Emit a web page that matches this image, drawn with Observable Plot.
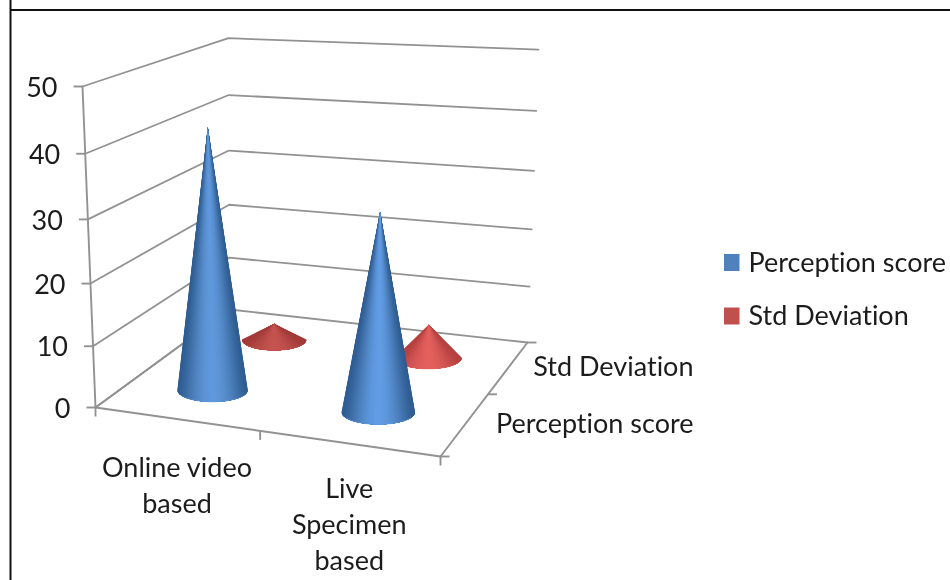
<!DOCTYPE html>
<html>
<head>
<meta charset="utf-8">
<style>html,body{margin:0;padding:0;background:#fff;overflow:hidden}svg{display:block;filter:blur(0.4px);font-variant-ligatures:none}</style>
<script src="https://cdn.jsdelivr.net/npm/d3@7"></script>
<script src="https://cdn.jsdelivr.net/npm/@observablehq/plot@0.6"></script>
</head>
<body>
<div id="chart"></div>
<script>
// ---- data ----
const categories = ["Online video\nbased", "Live\nSpecimen\nbased"];
const series = ["Perception score", "Std Deviation"];
const perceptionScore = [42.3, 31.3];
const stdDeviation = [2.9, 5.8];
const valueTicks = [0, 10, 20, 30, 40, 50];
const legendColors = ["#4f81bd", "#c0504d"];

// ---- cone shading (edge, middle, highlight) ----
const blueShades = [["#2f5d92", "#4c7fba", "#6098dc"], ["#2f5d92", "#4c80bd", "#619ce4"]];
const redShades = [["#a33b39", "#b54946", "#c55350"], ["#b5403e", "#cf5452", "#e4605e"]];

// ---- the 3D view: the chart's floor is a perspective image of the unit square ----
const FL = [95, 407], FR = [440, 456], BR = [527, 342], BL = [229, 309];
const wallHeight = 321, perspectiveK = 0.06;
const lean = {FL: -13, FR: 6, BR: 11, BL: -1};
const maxValue = 50;
const dx1 = FR[0] - BR[0], dx2 = BL[0] - BR[0], sx = FL[0] - FR[0] + BR[0] - BL[0];
const dy1 = FR[1] - BR[1], dy2 = BL[1] - BR[1], sy = FL[1] - FR[1] + BR[1] - BL[1];
const det = dx1 * dy2 - dx2 * dy1;
const g = (sx * dy2 - dx2 * sy) / det, h = (dx1 * sy - sx * dy1) / det;
const A = FR[0] - FL[0] + g * FR[0], B = BL[0] - FL[0] + h * BL[0];
const D = FR[1] - FL[1] + g * FR[1], E = BL[1] - FL[1] + h * BL[1];
const denom = (u, d) => g * u + h * d + 1;
function project(u, d, v) {
  const w = denom(u, d);
  const s = v / maxValue, t = s / (1 + perspectiveK * (1 - s));
  const fx = (A * u + B * d + FL[0]) / w, fy = (D * u + E * d + FL[1]) / w;
  const l = lean.FL * (1 - u) * (1 - d) + lean.FR * u * (1 - d) + lean.BR * u * d + lean.BL * (1 - u) * d;
  return [fx + l * t, fy - (wallHeight / w) * t];
}
const catU = i => (i + 0.5) / categories.length;
const serD = i => (i + 0.5) / series.length;

// ---- walls and floor ----
const gridLines = valueTicks.flatMap(v => [[0, 0], [0, 1], [1, 1]].map(([u, d]) => {
  const [x, y] = project(u, d, v); return {x, y, v};
}));
const seg = (id, pts) => pts.map(([x, y]) => ({x, y, id}));
const axisLines = [
  ...seg("value", [project(0, 0, 0), project(0, 0, maxValue)]),
  ...seg("front", [project(0, 0, 0), project(1, 0, 0)]),
  ...seg("side", [project(1, 0, 0), project(1, 1, 0)])
];
const tickLen = 9;
const ticks = [
  ...valueTicks.map(v => { const [x, y] = project(0, 0, v); return {x1: x - tickLen, y1: y, x2: x, y2: y}; }),
  ...[0, 0.5, 1].map(u => { const [x, y] = project(u, 0, 0); return {x1: x, y1: y, x2: x, y2: y + tickLen}; }),
  ...[0, 0.5, 1].map(d => { const [x, y] = project(1, d, 0); return {x1: x, y1: y, x2: x + tickLen, y2: y}; })
];

// ---- cones: nested silhouettes, darkest outside, lightest at the centre ----
const baseRx = 36, baseRy = 12, layers = 30, arcSteps = 40, coneShiftX = 1.5;
function cone(u, d, value, shades) {
  const w = denom(u, d), [cx0, cy] = project(u, d, 0), [ax0, ay] = project(u, d, value);
  const cx = cx0 + coneShiftX, ax = ax0 + coneShiftX;
  const rx = baseRx / w, ry = baseRy / w;
  const col = d3.scaleLinear().domain([0, 0.55, 1]).range(shades).interpolate(d3.interpolateRgb);
  const silhouettes = [], rim = [];
  for (let k = 0; k < layers; k++) {
    const inset = (Math.PI / 2) * k / layers;
    const id = k, color = col(Math.pow(Math.sin(inset), 3));
    silhouettes.push({x: ax, y: ay, id, color});
    for (let i = 0; i <= arcSteps; i++) {
      const a = inset + (Math.PI - 2 * inset) * i / arcSteps;
      silhouettes.push({x: cx + rx * Math.cos(a), y: cy + ry * Math.sin(a), id, color});
    }
  }
  for (let i = 0; i <= arcSteps; i++) {
    const a = 0.5 + (Math.PI - 1) * i / arcSteps;
    rim.push({x: cx + rx * Math.cos(a), y: cy + ry * Math.sin(a)});
  }
  return {silhouettes, rim, stroke: shades[2]};
}
const cones = [
  ...stdDeviation.map((v, i) => cone(catU(i), serD(1), v, redShades[i])),
  ...perceptionScore.map((v, i) => cone(catU(i), serD(0), v, blueShades[i]))
];
const coneMarks = cones.flatMap(c => [
  Plot.line(c.silhouettes, {x: "x", y: "y", z: "id", fill: "color", stroke: "none"}),
  Plot.line(c.rim, {x: "x", y: "y", stroke: c.stroke, strokeWidth: 1, strokeOpacity: 0.55})
]);

// ---- text ----
const ink = "#1c1c1c", labelSize = 27, gridColor = "#929292";
const valueLabels = valueTicks.map(v => { const [x, y] = project(0, 0, v); return {x: x - 25, y: y + 1.5, t: String(v)}; });
const catLabels = categories.map((t, i) => { const [x, y] = project(catU(i), 0, 0); return {x: x + 1, y: y + 33 - 4 * i, t}; });
const serLabels = series.map((t, i) => ({x: 693, y: project(1, serD(i), 0)[1] + 0.5, t}));
const legendRows = series.map((t, i) => ({t, color: legendColors[i], y: 262.5 + i * 53.5}));

const chart = Plot.plot({
  width: 950,
  height: 580,
  margin: 0,
  x: {domain: [0, 950], range: [0, 950], axis: null},
  y: {domain: [0, 580], range: [0, 580], axis: null},
  color: {type: "identity"},
  style: {background: "#fff", fontFamily: "Lato, sans-serif"},
  marks: [
    Plot.ruleX([10], {stroke: "#111", strokeWidth: 2}),
    Plot.ruleY([9.5], {x1: 10, x2: 950, stroke: "#111", strokeWidth: 2}),
    Plot.line(gridLines, {x: "x", y: "y", z: "v", stroke: gridColor, strokeWidth: 1.8}),
    Plot.line(axisLines, {x: "x", y: "y", z: "id", stroke: gridColor, strokeWidth: 1.9}),
    Plot.line(seg("floorLeft", [project(0, 0, 0), project(0, 1, 0)]), {x: "x", y: "y", stroke: gridColor, strokeWidth: 1.8}),
    Plot.link(ticks, {x1: "x1", y1: "y1", x2: "x2", y2: "y2", stroke: gridColor, strokeWidth: 1.9}),
    ...coneMarks,
    Plot.text(valueLabels, {x: "x", y: "y", text: "t", textAnchor: "end", fontSize: labelSize, fill: ink}),
    Plot.text(catLabels, {x: "x", y: "y", text: "t", lineAnchor: "top", lineHeight: 1.333, fontSize: labelSize, fill: ink}),
    Plot.text(serLabels, {x: "x", y: "y", text: "t", textAnchor: "end", fontSize: labelSize, fill: ink}),
    Plot.rect(legendRows, {x1: () => 724, x2: () => 739.5, y1: d => d.y - 8.5, y2: d => d.y + 8.5, fill: "color"}),
    Plot.text(legendRows, {x: () => 748, y: "y", text: "t", textAnchor: "start", fontSize: labelSize, fill: ink})
  ]
});
document.getElementById("chart").appendChild(chart);
</script>
</body>
</html>
